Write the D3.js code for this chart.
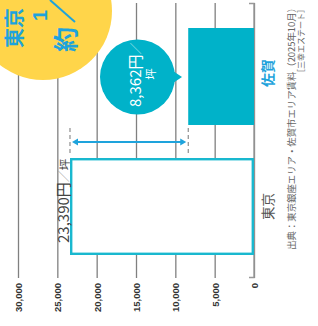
<!DOCTYPE html>
<html><head><meta charset="utf-8">
<script src="https://cdn.jsdelivr.net/npm/d3@7"></script>
<style>html,body{margin:0;padding:0;background:#fff;}svg{display:block;}</style>
</head><body>
<script>
const categories = ["佐賀", "東京"];
const values = [8362, 23390];
const valueLabels = ["8,362円", "23,390円"];
const tickValues = [0, 5000, 10000, 15000, 20000, 25000, 30000];
const sourceLines = ["出典：東京銀座エリア・佐賀市エリア賃料（2025年10月）", "［三幸エステート］"];

const W = 318, H = 326;
const JP = "'Noto Sans CJK JP','Noto Sans',sans-serif";
const svg = d3.select("body").append("svg").attr("width", W).attr("height", H);

const x = d3.scaleLinear().domain([0, 30000]).range([254, 18]);
const y = d3.scaleBand().domain(categories).range([28, 255]).paddingInner(0.254).paddingOuter(0);

// axis + gridlines
const ax = svg.append("g").attr("transform", "translate(0,3)")
  .call(d3.axisBottom(x).tickValues(tickValues).tickSize(275).tickFormat(d3.format(",")));
ax.select(".domain").remove();
ax.selectAll(".tick line").attr("stroke", "#808080").attr("stroke-width", 1.3);
ax.selectAll(".tick text")
  .attr("transform", "rotate(-90)").attr("x", -280).attr("y", 0).attr("dy", "0.36em")
  .attr("text-anchor", "end").attr("fill", "#333")
  .style("font-family", "'Liberation Sans',Arial,sans-serif").style("font-weight", "bold").style("font-size", "9.5px");
// zero bracket
svg.append("path").attr("d", `M${x(0)-5},3.5H${x(0)}V277.5H${x(0)-5}`)
  .attr("fill", "none").attr("stroke", "#999").attr("stroke-width", 1.4);

// yellow circle
svg.append("circle").attr("cx", 43).attr("cy", 11).attr("r", 69).attr("fill", "#ffd54a");
const blue = "#1ea3dc";
function vtext(px, py, str, size, fill, weight, anchor) {
  return svg.append("text").attr("transform", `translate(${px},${py}) rotate(-90)`)
    .attr("text-anchor", anchor || "start").attr("fill", fill)
    .style("font-family", JP).style("font-size", size + "px").style("font-weight", weight || "normal")
    .text(str);
}
vtext(22, 48, "東京", 20, blue, "bold");
vtext(75, 52, "約", 25, blue, "bold");
vtext(47, 21, "1", 20, blue, "bold").style("font-family", "'Liberation Sans',Arial,sans-serif");
svg.append("line").attr("x1", 50).attr("y1", 0).attr("x2", 75).attr("y2", 22).attr("stroke", blue).attr("stroke-width", 2);

// bubble for Saga
const teal = "#00b2c9";
svg.append("circle").attr("cx", 137.5).attr("cy", 77).attr("r", 37.5).attr("fill", teal);
svg.append("path").attr("d", "M173,71L182,77L173,83Z").attr("fill", teal);

// bars
const bars = svg.append("g");
bars.selectAll("rect").data(categories).join("rect")
  .attr("x", (d, i) => x(values[i]) + (i === 1 ? 1.2 : 0))
  .attr("y", d => y(d) + (d === "東京" ? 1.2 : 0))
  .attr("width", (d, i) => x(0) - x(values[i]) - (i === 1 ? 2.4 : 0))
  .attr("height", d => y.bandwidth() - (d === "東京" ? 2.4 : 0))
  .attr("fill", d => d === "東京" ? "#fff" : teal)
  .attr("stroke", d => d === "東京" ? "#19b8cf" : "none")
  .attr("stroke-width", 2.4);

// dashed guides and double arrow
[values[1], values[0]].forEach(v => {
  svg.append("line").attr("x1", x(v)).attr("x2", x(v)).attr("y1", 128).attr("y2", 156)
    .attr("stroke", "#777").attr("stroke-width", 1).attr("stroke-dasharray", "4,3");
});
const ay = 142, ax1 = x(values[1]) + 2, ax2 = x(values[0]) - 2;
svg.append("line").attr("x1", ax1 + 4).attr("x2", ax2 - 4).attr("y1", ay).attr("y2", ay)
  .attr("stroke", blue).attr("stroke-width", 2);
svg.append("path").attr("d", `M${ax1},${ay}L${ax1+6},${ay-3.5}L${ax1+6},${ay+3.5}Z`).attr("fill", blue);
svg.append("path").attr("d", `M${ax2},${ay}L${ax2-6},${ay-3.5}L${ax2-6},${ay+3.5}Z`).attr("fill", blue);

// value labels
const tl = vtext(x(values[1]) - 0.5, 243, "", 15, "#444", "normal");
tl.append("tspan").text(valueLabels[1]);
tl.append("tspan").attr("fill", "#999").style("font-size", "12px").text("／");
tl.append("tspan").style("font-size", "11.5px").text("坪");

const bl = vtext(141, 107, "", 15, "#fff", "normal");
bl.append("tspan").text(valueLabels[0]);
bl.append("tspan").attr("fill", "#bfeaf0").style("font-size", "12px").text("／");
vtext(155, 74, "坪", 11.5, "#fff", "normal", "middle");

// category labels
vtext(273, 220, categories[1], 13.5, "#555", "normal");
vtext(273, 87, categories[0], 14, blue, "bold");

// source
vtext(295, 3, sourceLines[0], 9.4, "#666", "normal", "end");
vtext(304, 5, sourceLines[1], 8, "#666", "normal", "end");
</script>
</body></html>
